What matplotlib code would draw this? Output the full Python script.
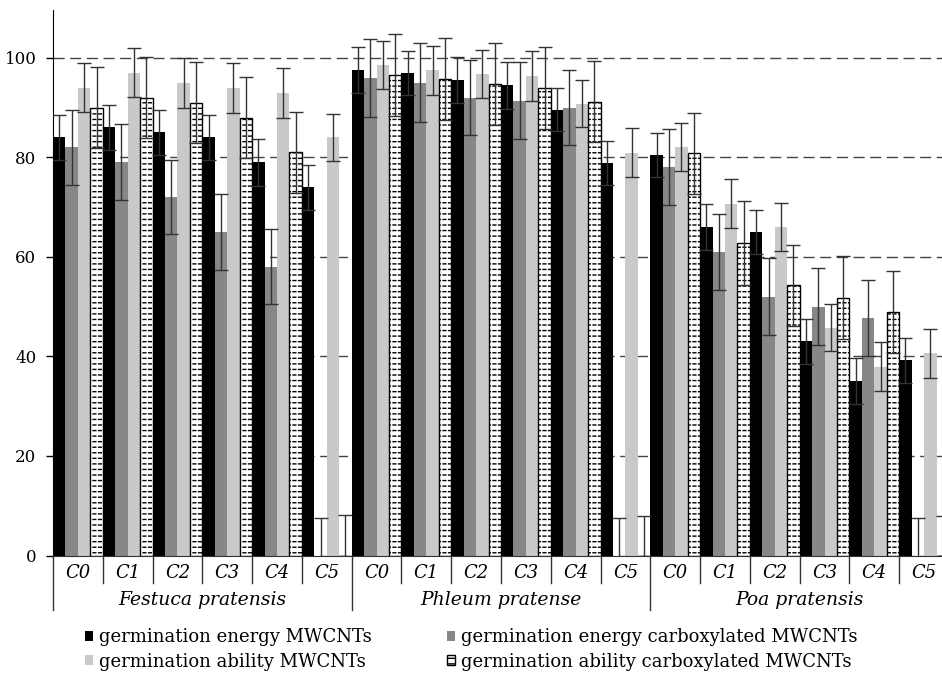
import numpy as np
import matplotlib
matplotlib.use("Agg")
import matplotlib.pyplot as plt
from matplotlib.patches import Patch
from matplotlib.lines import Line2D
from matplotlib.transforms import blended_transform_factory

plt.rcParams['font.family'] = ['DejaVu Serif']
plt.rcParams['hatch.linewidth'] = 1.0

# Data
species = ['Festuca pratensis', 'Phleum pratense', 'Poa pratensis']
concs = ['C0', 'C1', 'C2', 'C3', 'C4', 'C5']

energy_mw = [84, 86, 85, 84, 79, 74, 97.5, 97, 95.5, 94.5, 89.6, 78.8, 80.4, 66, 65, 43, 35, 39.2]
energy_mw_err = [4.5, 4.5, 4.5, 4.5, 4.7, 4.5, 4.6, 4.4, 4.6, 4.7, 4.4, 4.4, 4.4, 4.7, 4.4, 4.5, 4.6, 4.5]
energy_cx = [82, 79, 72, 65, 58, 0, 96, 95, 92, 91.4, 90, 0, 78, 61, 52, 50, 47.7, 0]
energy_cx_err = [7.6, 7.6, 7.5, 7.6, 7.5, 7.6, 7.8, 7.9, 7.6, 7.7, 7.6, 7.5, 7.6, 7.7, 7.7, 7.8, 7.6, 7.5]
ability_mw = [94, 97, 95, 94, 93, 84, 98.5, 97.5, 96.7, 96.3, 90.8, 80.9, 82.1, 70.7, 66, 45.8, 37.9, 40.6]
ability_mw_err = [4.9, 4.9, 5, 5, 5, 4.8, 4.8, 4.9, 4.8, 5, 4.8, 4.9, 4.8, 4.9, 4.9, 4.8, 4.9, 4.9]
ability_cx = [90, 92, 91, 88, 81, 0, 96.6, 95.7, 94.7, 93.9, 91.2, 0, 80.8, 62.8, 54.3, 51.8, 48.9, 0]
ability_cx_err = [8.1, 8.1, 8.2, 8.2, 8.1, 8.2, 8.2, 8.2, 8.2, 8.2, 8.2, 8, 8.2, 8.5, 8.1, 8.4, 8.2, 8]

labels = ['germination energy MWCNTs', 'germination energy carboxylated MWCNTs',
          'germination ability MWCNTs', 'germination ability carboxylated MWCNTs']

c_black = 'black'
c_gray = '#878787'
c_light = '#c9c9c9'
err_kw = dict(ecolor='#333333', elinewidth=1, capsize=5, capthick=1, zorder=4)

W, H = 942, 673
fig = plt.figure(figsize=(W / 100, H / 100), dpi=100)
ax = fig.add_axes([53 / W, (H - 555.5) / H, 896 / W, (555.5 - 10) / H])

x = np.arange(len(energy_mw))
w = 0.25

ax.bar(x - 1.5 * w, energy_mw, w, color=c_black, lw=0, zorder=2)
ax.bar(x - 0.5 * w, energy_cx, w, color=c_gray, lw=0, zorder=2)
ax.bar(x + 0.5 * w, ability_mw, w, color=c_light, lw=0, zorder=2)
# hatched bars: dashes made of horizontal lines cut by white vertical lines
ax.bar(x + 1.5 * w, ability_cx, w, color='white', edgecolor='black', hatch='---', lw=0, zorder=2)
ax.bar(x + 1.5 * w, ability_cx, w, color='none', edgecolor='white', hatch='|||', lw=0, zorder=2.1)
ax.bar(x + 1.5 * w, ability_cx, w, fill=False, edgecolor='black', lw=1, zorder=2.2)

ax.errorbar(x - 1.5 * w, energy_mw, yerr=energy_mw_err, fmt='none', **err_kw)
ax.errorbar(x - 0.5 * w, energy_cx, yerr=energy_cx_err, fmt='none', **err_kw)
ax.errorbar(x + 0.5 * w, ability_mw, yerr=ability_mw_err, fmt='none', **err_kw)
ax.errorbar(x + 1.5 * w, ability_cx, yerr=ability_cx_err, fmt='none', **err_kw)

ax.set_xlim(-0.5, 17.5)
ax.set_ylim(0, 109.6)
ax.set_yticks([0, 20, 40, 60, 80, 100])
ax.tick_params(axis='y', direction='out', length=5, width=1, pad=7, labelsize=12)
ax.set_xticks([])
ax.set_axisbelow(True)
ax.yaxis.grid(True, color='#444444', linestyle=(0, (8, 4)), linewidth=1)
for s in ['top', 'right']:
    ax.spines[s].set_visible(False)
ax.spines['left'].set_color('black')
ax.spines['bottom'].set_color('#333333')

# category table under the axis
trans = blended_transform_factory(ax.transData, fig.transFigure)
for i in range(len(x)):
    ax.text(i, 1 - 573 / H, concs[i % 6], ha='center', va='center',
            style='italic', fontsize=13, transform=trans)
for k, name in enumerate(species):
    ax.text(6 * k + 2.5, 1 - 600 / H, name, ha='center', va='center',
            style='italic', fontsize=13.5, transform=trans)
for b in range(18):
    y_end = 610 if b % 6 == 0 else 583
    ax.add_line(Line2D([b - 0.5, b - 0.5], [1 - 555.5 / H, 1 - y_end / H],
                       transform=trans, color='#333333', lw=1, clip_on=False))

handles = [Patch(facecolor=c_black), Patch(facecolor=c_gray),
           Patch(facecolor=c_light),
           Patch(facecolor='white', edgecolor='black', hatch='---')]
leg_kw = dict(frameon=False, fontsize=13, handlelength=0.45, handleheight=0.45,
              handletextpad=0.35, labelspacing=0.35, borderpad=0, loc='center left')
fig.legend([handles[0], handles[2]], [labels[0], labels[2]],
           bbox_to_anchor=(76 / W, 1 - 649.5 / H), **leg_kw)
fig.legend([handles[1], handles[3]], [labels[1], labels[3]],
           bbox_to_anchor=(438 / W, 1 - 649.5 / H), **leg_kw)

fig.savefig('out.png', dpi=100)
